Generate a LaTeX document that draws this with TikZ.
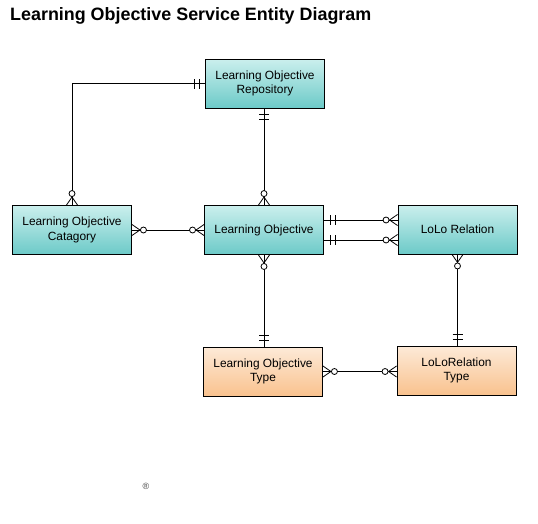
\documentclass[tikz,border=0pt]{standalone}
\usepackage{fontspec}
\setmainfont{Liberation Sans}
\definecolor{tealtop}{HTML}{CBEFED}
\definecolor{tealbot}{HTML}{6CCAC8}
\definecolor{orgtop}{HTML}{FDEAD8}
\definecolor{orgbot}{HTML}{F9C28E}
\tikzset{
  entity/.style={draw=black, line width=0.9pt, minimum width=119pt, minimum height=49pt,
    align=center, font=\fontsize{11.9}{14.5}\selectfont, inner sep=0pt},
  tealbox/.style={entity, top color=tealtop, bottom color=tealbot},
  orgbox/.style={entity, top color=orgtop, bottom color=orgbot},
  conn/.style={line width=0.8pt},
  zm/.pic={
    \draw[line width=0.8pt] (0,-5.5) -- (8,0) -- (0,5.5);
    \draw[line width=0.8pt] (0,0) -- (8,0);
    \draw[line width=0.8pt, fill=white] (11.5,0) circle (3);
  },
  one/.pic={
    \draw[line width=0.8pt] (6,-5) -- (6,5);
    \draw[line width=0.8pt] (11,-5) -- (11,5);
  }
}
\begin{document}
\begin{tikzpicture}[x=1pt, y=-1pt]
\useasboundingbox (0,0) rectangle (538,523);
\node[anchor=base west, inner sep=0pt, font=\fontsize{17.9}{20}\bfseries\selectfont] (title) at (10,20) {Learning Objective Service Entity Diagram};

\node[tealbox] (repo) at (265,83.5) {Learning Objective\\Repository};
\node[tealbox] (cat) at (72,230) {Learning Objective\\Catagory};
\node[tealbox] (lo) at (264,230) {Learning Objective};
\node[tealbox] (lolo) at (457.5,229.5) {LoLo Relation};
\node[orgbox] (lot) at (263,371.5) {Learning Objective\\Type};
\node[orgbox] (lolot) at (456.5,370.5) {LoLoRelation\\Type};

\node[font=\fontsize{9}{10}\selectfont, text=black!75] (reg) at (146,486) {®};

% repository -> category
\draw[conn] (repo.west) -| (cat.north);
\pic at (repo.west) [rotate=180] {one};
\pic at (cat.north) [rotate=90] {zm};

% repository -> LO
\draw[conn] (lo.north |- repo.south) -- (lo.north);
\pic at (lo.north |- repo.south) [rotate=-90] {one};
\pic at (lo.north) [rotate=90] {zm};

% category -> LO
\draw[conn] (cat.east) -- (cat.east -| lo.west);
\pic at (cat.east) {zm};
\pic at (cat.east -| lo.west) [rotate=180] {zm};

% LO -> LoLo (two lines)
\draw[conn] ([yshift=10pt]lo.east) -- ([yshift=10pt]lo.east -| lolo.west);
\draw[conn] ([yshift=-10pt]lo.east) -- ([yshift=-10pt]lo.east -| lolo.west);
\pic at ([yshift=10pt]lo.east) {one};
\pic at ([yshift=-10pt]lo.east) {one};
\pic at ([yshift=10pt]lo.east -| lolo.west) [rotate=180] {zm};
\pic at ([yshift=-10pt]lo.east -| lolo.west) [rotate=180] {zm};

% LO -> LO Type
\draw[conn] (lo.south) -- (lo.south |- lot.north);
\pic at (lo.south) [rotate=-90] {zm};
\pic at (lo.south |- lot.north) [rotate=90] {one};

% LoLo -> LoLo Type
\draw[conn] (lolo.south) -- (lolo.south |- lolot.north);
\pic at (lolo.south) [rotate=-90] {zm};
\pic at (lolo.south |- lolot.north) [rotate=90] {one};

% LO Type -> LoLo Type
\draw[conn] (lot.east) -- (lot.east -| lolot.west);
\pic at (lot.east) {zm};
\pic at (lot.east -| lolot.west) [rotate=180] {zm};
\end{tikzpicture}
\end{document}
